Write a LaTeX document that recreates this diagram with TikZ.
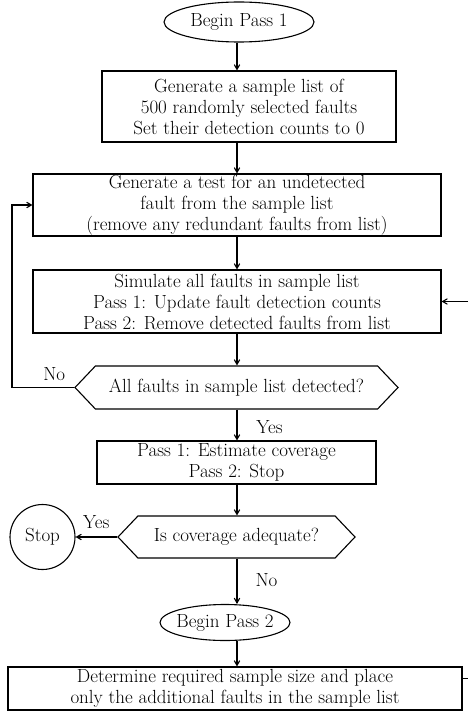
\documentclass[tikz,border=0pt]{standalone}
\usepackage{amsmath}
\usepackage{tikz}
\usetikzlibrary{arrows,shapes.geometric,shapes.symbols}

\begin{document}
\begin{tikzpicture}[x=1pt,y=-1pt,line width=1.1pt,>=angle 60,
  every node/.style={font=\fontsize{19}{21}\selectfont},
  term/.style={draw,ellipse,inner xsep=-12pt,inner ysep=0pt},
  box/.style={draw,rectangle,align=center,inner sep=0pt},
  decide/.style={draw,signal,signal to=west and east,signal pointer angle=93,inner sep=0pt}]
\useasboundingbox (0,0) rectangle (468,711);
\path (237,0) coordinate (spine);
\path (12,0) coordinate (loop);
\path (468,0) coordinate (edge);
%%the main column
\node[term,minimum width=150pt,minimum height=40pt] (bp1) at (239,22) {Begin Pass 1};
\node[box,minimum width=294pt,minimum height=71pt] (gen) at (249,106.5)
  {Generate a sample list of\\500 randomly selected faults\\Set their detection counts to 0};
\node[box,minimum width=408pt,minimum height=62pt] (tst) at (237,205)
  {Generate a test for an undetected\\fault from the sample list\\(remove any redundant faults from list)};
\node[box,minimum width=408pt,minimum height=63pt] (sim) at (237,301.5)
  {Simulate all faults in sample list\\Pass 1: Update fault detection counts\\Pass 2: Remove detected faults from list};
\node[decide,minimum width=323pt,minimum height=43pt] (ask1) at (236.5,387.5)
  {All faults in sample list detected?};
\node[box,minimum width=279pt,minimum height=43pt] (est) at (236.5,462.5)
  {Pass 1: Estimate coverage\\Pass 2: Stop};
\node[decide,minimum width=237pt,minimum height=42pt] (ask2) at (236.5,537)
  {Is coverage adequate?};
\node[draw,circle,minimum size=65pt,inner sep=0pt] (stop) at (42.5,537) {Stop};
\node[term,minimum width=130pt,minimum height=36pt] (bp2) at (225,622.5) {Begin Pass 2};
\node[box,minimum width=454pt,minimum height=43pt] (det) at (235,688.5)
  {Determine required sample size and place\\only the additional faults in the sample list};
%%Now the arrows down the middle
\draw[->] (bp1.south -| spine) -- (gen.north -| spine);
\draw[->] (gen.south -| spine) -- (tst.north -| spine);
\draw[->] (tst.south -| spine) -- (sim.north -| spine);
\draw[->] (sim.south -| spine) -- (ask1.north -| spine);
\draw[->] (ask1.south -| spine) -- (est.north -| spine);
\draw[->] (est.south -| spine) -- (ask2.north -| spine);
\draw[->] (ask2.south -| spine) -- (bp2.north -| spine);
\draw[->] (bp2.south -| spine) -- (det.north -| spine);
%%the loop back and the stop
\draw[->] (ask1.west) -- (ask1.west -| loop) |- (tst.west);
\draw[->] (ask2.west) -- (stop.east);
%%lines running off the right side
\draw[->] (sim.east -| edge) -- (sim.east);
\draw ([yshift=10pt]det.east) -- ([yshift=10pt]det.east -| edge);
%%finally the text
\path (ask1.west) +(-20,-13) node {No}
(est.north) +(33,-13) node {Yes}
(ask2.west) +(-21,-15) node {Yes}
(ask2.south) +(30,22) node {No};
\end{tikzpicture}
\end{document}
